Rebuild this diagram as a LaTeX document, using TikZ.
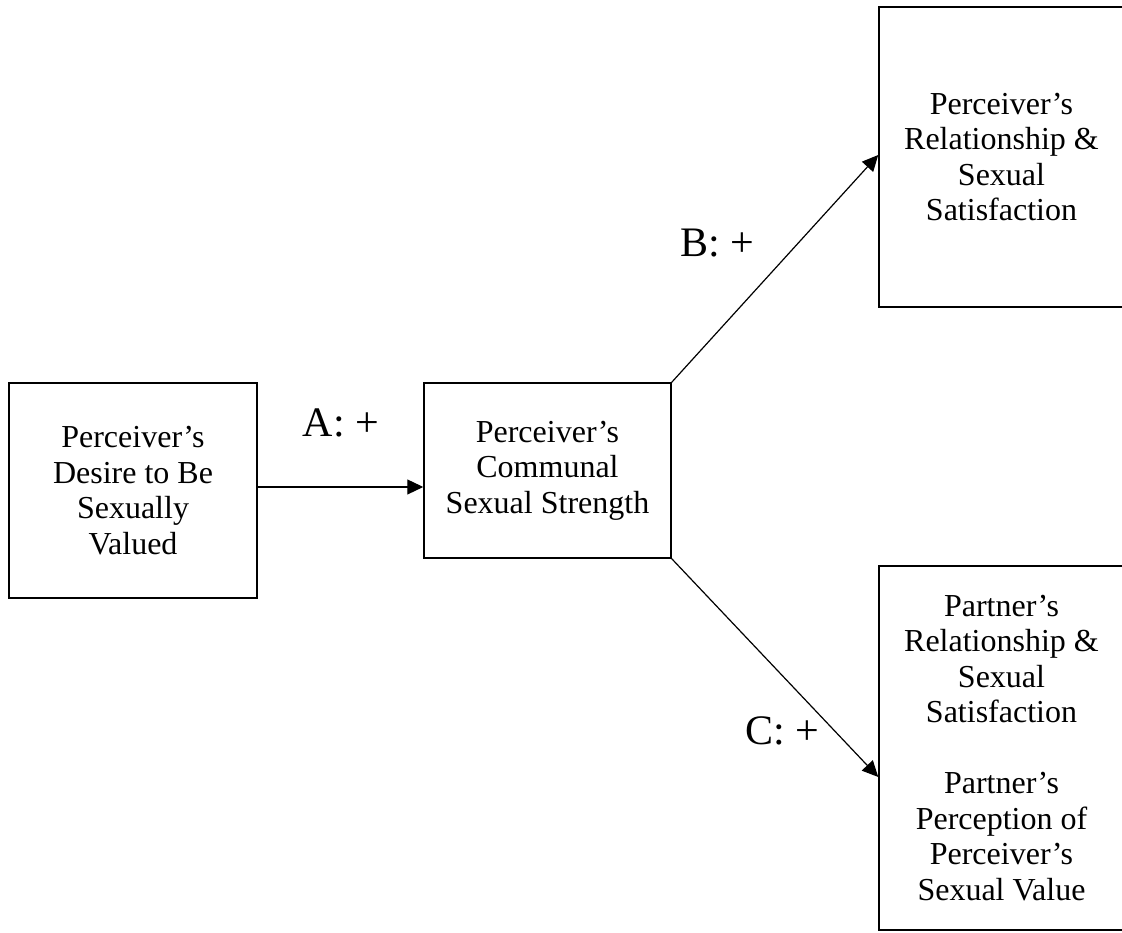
\documentclass[tikz,border=0pt]{standalone}
\usepackage{fontspec}
\setmainfont{Liberation Serif}
\usetikzlibrary{arrows.meta}
\begin{document}
\begin{tikzpicture}[x=1pt,y=1pt,
  box/.style={draw, line width=1.5pt, inner sep=0pt, align=center,
    font=\fontsize{32}{35.5}\selectfont},
  arr/.style={line width=1.2pt, -{Triangle[length=16pt,width=15pt]}},
  pathlabel/.style={font=\fontsize{42}{46}\selectfont}]
\useasboundingbox (0,0) rectangle (1122,933);
\clip (0,0) rectangle (1122,933);

\node[box, minimum width=248pt, minimum height=215pt] (desire) at (133,442.5)
  {Perceiver’s\\Desire to Be\\Sexually\\Valued};
\node[box, minimum width=247pt, minimum height=175pt] (communal) at (547.5,462.5)
  {Perceiver’s\\Communal\\Sexual Strength};
\node[box, minimum width=245pt, minimum height=300pt] (selfsat) at (1001.5,776)
  {Perceiver’s\\Relationship \&\\Sexual\\Satisfaction};
\node[box, minimum width=245pt, minimum height=364pt] (partner) at (1001.5,185)
  {Partner’s\\Relationship \&\\Sexual\\Satisfaction\\[35.5pt]Partner’s\\Perception of\\Perceiver’s\\Sexual Value};

\draw[arr] ([yshift=3.5pt]desire.east) -- ([yshift=3.5pt]desire.east -| communal.west);
\draw[arr] (communal.north east) -- ([yshift=2pt]selfsat.west);
\draw[arr] (communal.south east) -- ([yshift=-29pt]partner.west);

\node[pathlabel] (labA) at (341,510) {A: +};
\node[pathlabel] (labB) at (717,690) {B: +};
\node[pathlabel] (labC) at (782,202) {C: +};
\end{tikzpicture}
\end{document}
